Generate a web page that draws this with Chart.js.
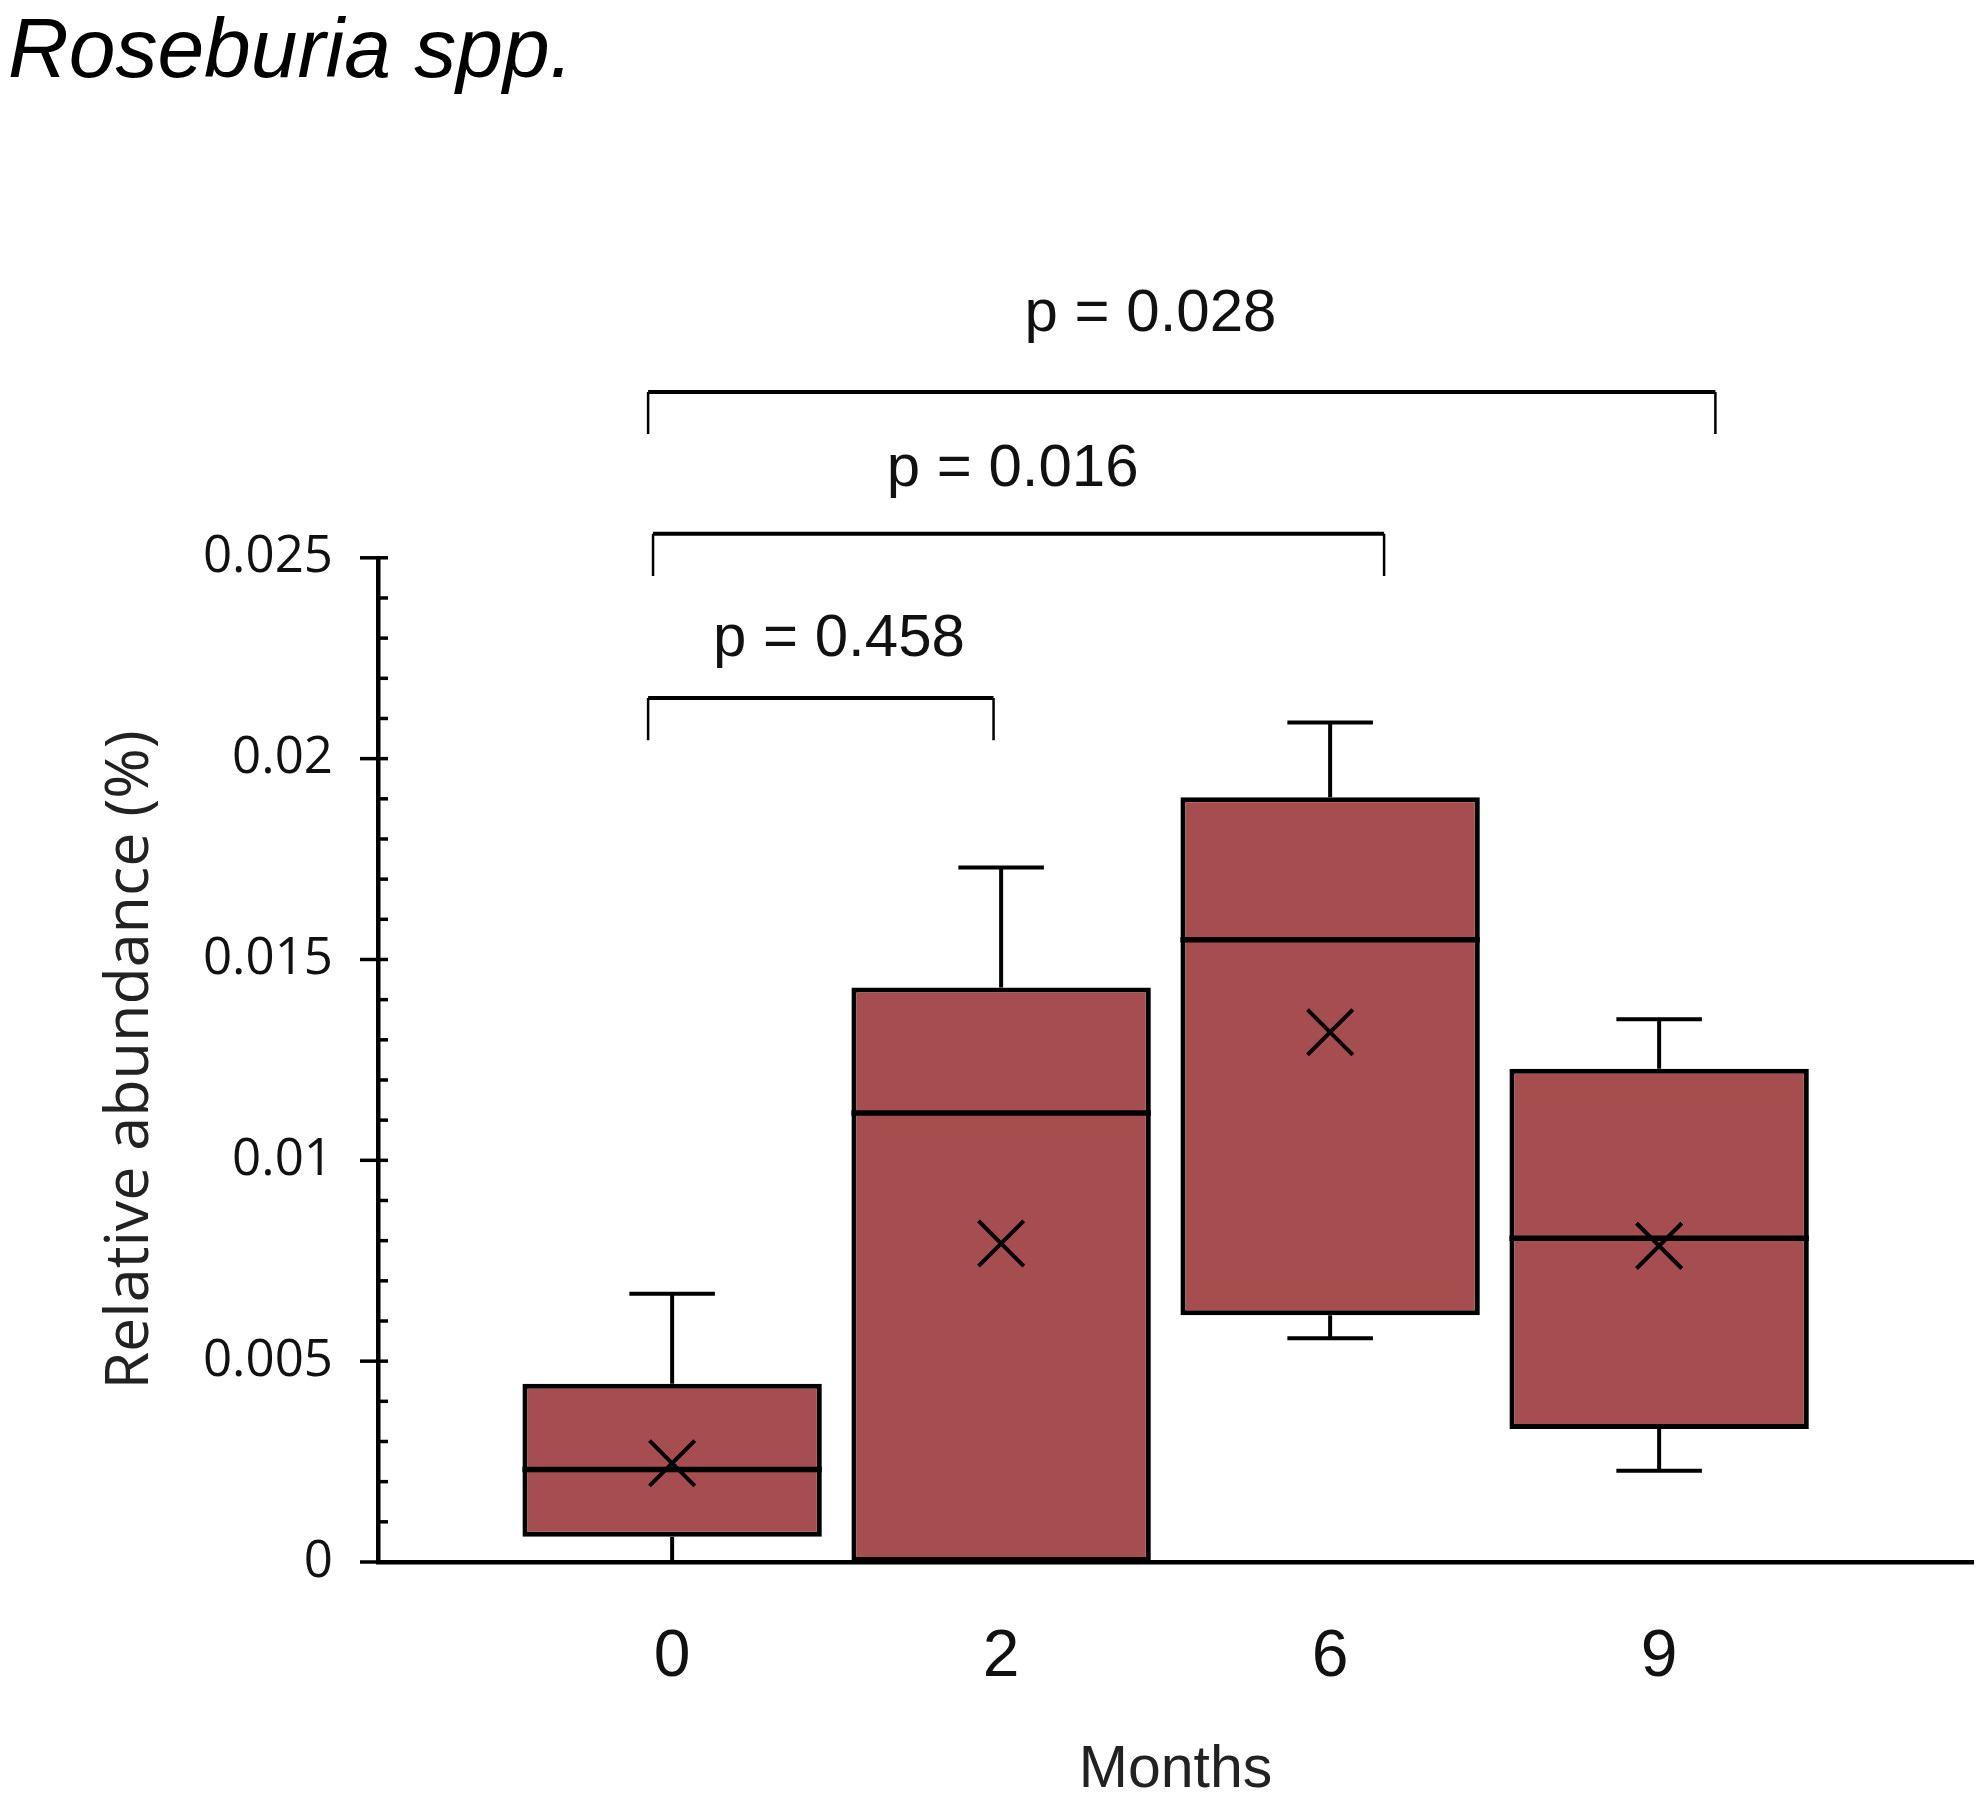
<!DOCTYPE html>
<html>
<head>
<meta charset="utf-8">
<style>
  html, body { margin: 0; padding: 0; background: #fff; overflow: hidden; }
  #wrap { width: 1983px; height: 1810px; position: relative; }
  canvas { display: block; }
</style>
<script src="https://cdn.jsdelivr.net/npm/chart.js@4.4.1/dist/chart.umd.min.js"></script>
</head>
<body>
<div id="wrap"><canvas id="boxChart"></canvas></div>
<script>
// Months after start
const months = ['0', '2', '6', '9'];

// Box plot summary per month (relative abundance, %)
const whiskerMin = [0, 0, 0.00557, 0.00227];
const q1 = [0.00063, 0, 0.00614, 0.00331];
const median = [0.0023, 0.01118, 0.01549, 0.00806];
const q3 = [0.00444, 0.0143, 0.01904, 0.01228];
const whiskerMax = [0.00668, 0.01729, 0.0209, 0.01351];
const mean = [0.00246, 0.00793, 0.01319, 0.00787];

// Significance brackets: from/to on the month axis, bracket height, p label and where it sits
const bracketFrom = [0.927, 0.942, 0.927];
const bracketTo = [1.977, 3.164, 4.171];
const bracketLevel = [0.02151, 0.0256, 0.02913];
const pLabels = ['p = 0.458', 'p = 0.016', 'p = 0.028'];
const pLabelX = [1.507, 2.035, 2.454];
const pLabelY = [0.02256, 0.02679, 0.03065];

const boxColor = '#a54d4f';

// Whiskers, medians, minor ticks and p-value brackets
const boxExtras = {
    id: 'boxExtras',
    afterDatasetsDraw(chart) {
        const ctx = chart.ctx;
        const x = chart.scales.x;
        const y = chart.scales.y;
        const unit = x.getPixelForValue(2) - x.getPixelForValue(1);
        ctx.save();
        ctx.strokeStyle = '#000';
        ctx.lineCap = 'butt';

        months.forEach((m, i) => {
            const cx = x.getPixelForValue(i + 1);
            const cap = unit * 0.13;
            const half = unit * 0.455;
            // whiskers
            ctx.lineWidth = 4;
            ctx.beginPath();
            ctx.moveTo(cx, y.getPixelForValue(q3[i]));
            ctx.lineTo(cx, y.getPixelForValue(whiskerMax[i]));
            ctx.moveTo(cx - cap, y.getPixelForValue(whiskerMax[i]));
            ctx.lineTo(cx + cap, y.getPixelForValue(whiskerMax[i]));
            ctx.moveTo(cx, y.getPixelForValue(q1[i]));
            ctx.lineTo(cx, y.getPixelForValue(whiskerMin[i]));
            ctx.moveTo(cx - cap, y.getPixelForValue(whiskerMin[i]));
            ctx.lineTo(cx + cap, y.getPixelForValue(whiskerMin[i]));
            ctx.stroke();
            // median
            ctx.lineWidth = 5.5;
            ctx.beginPath();
            ctx.moveTo(cx - half, y.getPixelForValue(median[i]));
            ctx.lineTo(cx + half, y.getPixelForValue(median[i]));
            ctx.stroke();
        });

        // tick marks on the y axis
        ctx.lineWidth = 3.5;
        y.ticks.forEach(t => {
            const py = y.getPixelForValue(t.value);
            const major = Math.round(t.value * 1000) % 5 === 0;
            ctx.beginPath();
            ctx.moveTo(y.right - (major ? 18 : 0), py);
            ctx.lineTo(y.right + 10, py);
            ctx.stroke();
        });

        // brackets
        const drop = 0.00105;
        ctx.font = '60px "Liberation Sans", Arial, sans-serif';
        ctx.fillStyle = '#111';
        ctx.textAlign = 'center';
        ctx.textBaseline = 'alphabetic';
        pLabels.forEach((label, i) => {
            const x0 = x.getPixelForValue(bracketFrom[i]);
            const x1 = x.getPixelForValue(bracketTo[i]);
            const top = y.getPixelForValue(bracketLevel[i]);
            const bottom = y.getPixelForValue(bracketLevel[i] - drop);
            ctx.lineWidth = 4;
            ctx.beginPath();
            ctx.moveTo(x0, top);
            ctx.lineTo(x1, top);
            ctx.stroke();
            ctx.lineWidth = 2.5;
            ctx.beginPath();
            ctx.moveTo(x0, top);
            ctx.lineTo(x0, bottom);
            ctx.moveTo(x1, top);
            ctx.lineTo(x1, bottom);
            ctx.stroke();
            ctx.fillText(label, x.getPixelForValue(pLabelX[i]), y.getPixelForValue(pLabelY[i]));
        });
        ctx.restore();
    }
};

const ctx = document.getElementById('boxChart').getContext('2d');
new Chart(ctx, {
    data: {
        datasets: [
            {
                type: 'scatter',
                label: 'Mean',
                data: months.map((m, i) => ({ x: i + 1, y: mean[i] })),
                pointStyle: 'crossRot',
                radius: 32,
                borderWidth: 4,
                borderColor: '#000',
                backgroundColor: '#000'
            },
            {
                type: 'bar',
                label: 'IQR',
                data: months.map((m, i) => ({ x: i + 1, y: [q1[i], q3[i]] })),
                backgroundColor: boxColor,
                borderColor: '#000',
                borderWidth: 5,
                borderSkipped: false,
                categoryPercentage: 1,
                barPercentage: 0.91
            }
        ]
    },
    options: {
        responsive: true,
        maintainAspectRatio: false,
        animation: false,
        layout: { autoPadding: false, padding: { left: 8, right: 10, top: 3, bottom: 0 } },
        plugins: {
            legend: { display: false },
            tooltip: { enabled: false },
            title: {
                display: true,
                text: 'Roseburia spp.',
                align: 'start',
                color: '#000',
                font: { family: '"Liberation Sans", Arial, sans-serif', size: 84, style: 'italic', weight: 'normal', lineHeight: 1.2 },
                padding: { top: 0, bottom: 454 }
            }
        },
        scales: {
            x: {
                type: 'linear',
                min: 0.106,
                max: 4.954,
                offset: false,
                grid: { display: false, drawTicks: false },
                border: { display: true, color: '#000', width: 4.5 },
                afterBuildTicks(scale) {
                    scale.ticks = months.map((m, i) => ({ value: i + 1 }));
                },
                afterFit(scale) { scale.height = 248; },
                ticks: {
                    autoSkip: false,
                    padding: 56,
                    color: '#111',
                    font: { family: '"Liberation Sans", Arial, sans-serif', size: 66 },
                    callback: (v) => months[Math.round(v) - 1]
                },
                title: {
                    display: true,
                    text: 'Months',
                    color: '#222',
                    font: { family: '"Liberation Sans", Arial, sans-serif', size: 59, lineHeight: 1.2 },
                    padding: { top: 0, bottom: 4 }
                }
            },
            y: {
                type: 'linear',
                min: 0,
                max: 0.025,
                grid: { display: false, drawTicks: false },
                border: { display: true, color: '#000', width: 4.5 },
                afterFit(scale) { scale.width = 370; },
                ticks: {
                    stepSize: 0.001,
                    autoSkip: false,
                    padding: 45,
                    color: '#111',
                    font: { family: '"Open Sans", "Liberation Sans", sans-serif', size: 51 },
                    callback: (v) => {
                        const k = Math.round(v * 1000);
                        return k % 5 === 0 ? String(k / 1000) : '';
                    }
                },
                title: {
                    display: true,
                    text: 'Relative abundance (%)',
                    color: '#222',
                    font: { family: '"Open Sans", "Liberation Sans", sans-serif', size: 61, lineHeight: 1.2 },
                    padding: { top: 86, bottom: 0 }
                }
            }
        }
    },
    plugins: [boxExtras]
});
</script>
</body>
</html>
